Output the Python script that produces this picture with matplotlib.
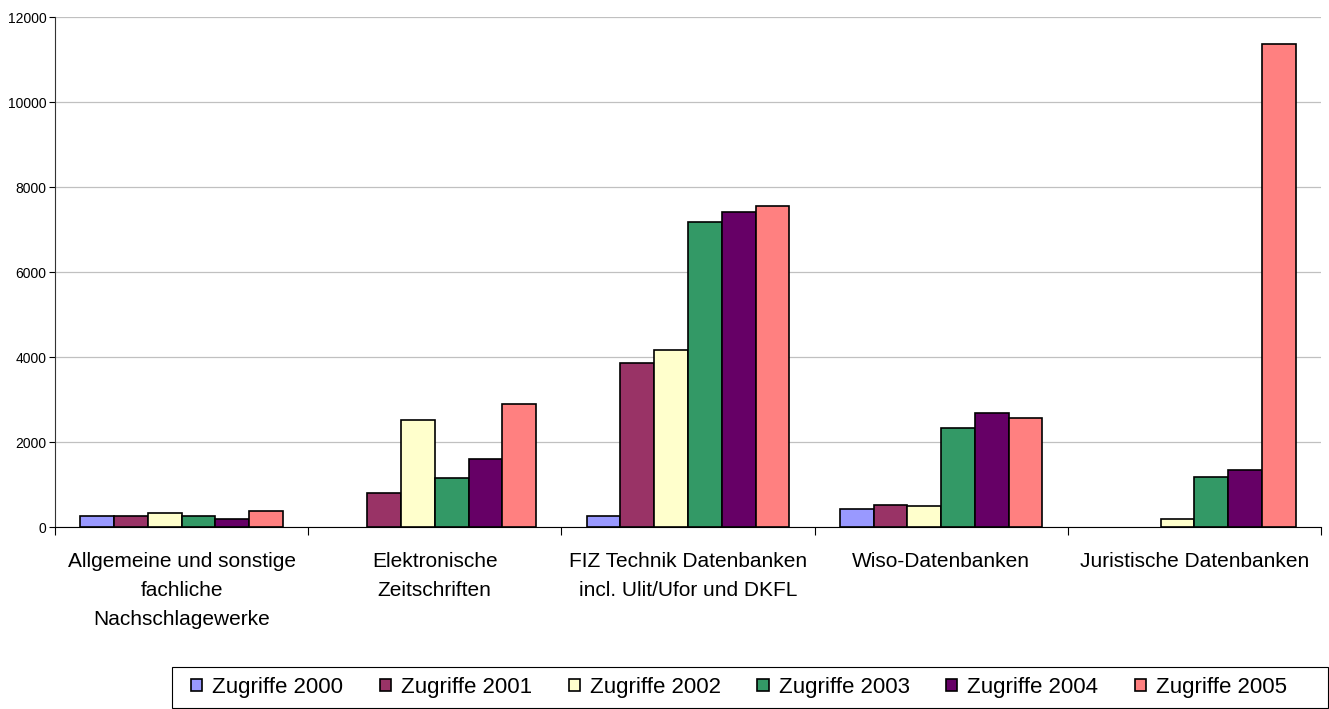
import numpy as np
import matplotlib.pyplot as plt
from matplotlib.patches import Rectangle

# Zugriffe auf Datenbanken nach Kategorie und Jahr
kategorien = [
    'Allgemeine und sonstige\nfachliche\nNachschlagewerke',
    'Elektronische\nZeitschriften',
    'FIZ Technik Datenbanken\nincl. Ulit/Ufor und DKFL',
    'Wiso-Datenbanken',
    'Juristische Datenbanken',
]
jahre = ['Zugriffe 2000', 'Zugriffe 2001', 'Zugriffe 2002',
         'Zugriffe 2003', 'Zugriffe 2004', 'Zugriffe 2005']

z2000 = [270, 0, 273, 430, 0]
z2001 = [270, 800, 3860, 518, 0]
z2002 = [330, 2525, 4172, 505, 195]
z2003 = [270, 1167, 7184, 2344, 1176]
z2004 = [188, 1600, 7419, 2682, 1355]
z2005 = [390, 2908, 7567, 2572, 11380]

farben = ['#9999ff', '#993366', '#ffffcc', '#339966', '#660066', '#ff8080']

plt.rcParams['font.family'] = ['Liberation Sans', 'DejaVu Sans']

W, H = 1329, 709
fig = plt.figure(figsize=(W / 100, H / 100), dpi=100)
ax = fig.add_axes([55 / W, 1 - 527.3 / H, 1266 / W, 510 / H])

x = np.arange(len(kategorien))
n = len(jahre)
breite = 1.0 / (n + 1.5)
serien = [z2000, z2001, z2002, z2003, z2004, z2005]
for i, (werte, name, farbe) in enumerate(zip(serien, jahre, farben)):
    pos = x - n * breite / 2 + (i + 0.5) * breite
    # leere Werte ohne Umriss, sonst liegt eine Linie auf der Achse
    lw = [1.2 if v > 0 else 0 for v in werte]
    ax.bar(pos, werte, width=breite, color=farbe, edgecolor='black',
           linewidth=lw, label=name, zorder=3)

ax.set_xlim(-0.5, len(kategorien) - 0.5)
ax.set_ylim(0, 12000)
ax.set_yticks(np.arange(0, 12001, 2000))
ax.tick_params(axis='y', labelsize=10, length=4, width=0.8, pad=2)
ax.yaxis.grid(True, color='#c0c0c0', linewidth=0.9, zorder=0)

ax.set_xticks(x)
ax.set_xticklabels(kategorien, fontsize=15, linespacing=1.65)
ax.set_xticks(np.arange(-0.5, len(kategorien)), minor=True)
ax.tick_params(axis='x', which='major', length=0, pad=18)
ax.tick_params(axis='x', which='minor', length=6, width=0.8)

for s in ['top', 'right']:
    ax.spines[s].set_visible(False)
ax.spines['left'].set_color('#333333')
ax.spines['bottom'].set_color('black')

# Legendenrahmen
fig.patches.append(Rectangle((172 / W, 1 / H), 1156 / W, 41 / H,
                             transform=fig.transFigure, facecolor='white',
                             edgecolor='black', linewidth=0.8))
handles, labels = ax.get_legend_handles_labels()
leg = fig.legend(handles, labels, loc='center left', ncol=6,
                 bbox_to_anchor=(191 / W, 21.5 / H),
                 fontsize=16, frameon=False,
                 handlelength=0.5, handleheight=0.5, handletextpad=0.45,
                 columnspacing=1.65, borderaxespad=0, borderpad=0)
for h in leg.legend_handles:
    h.set_linewidth(1.2)

fig.savefig('out.png', dpi=100)
